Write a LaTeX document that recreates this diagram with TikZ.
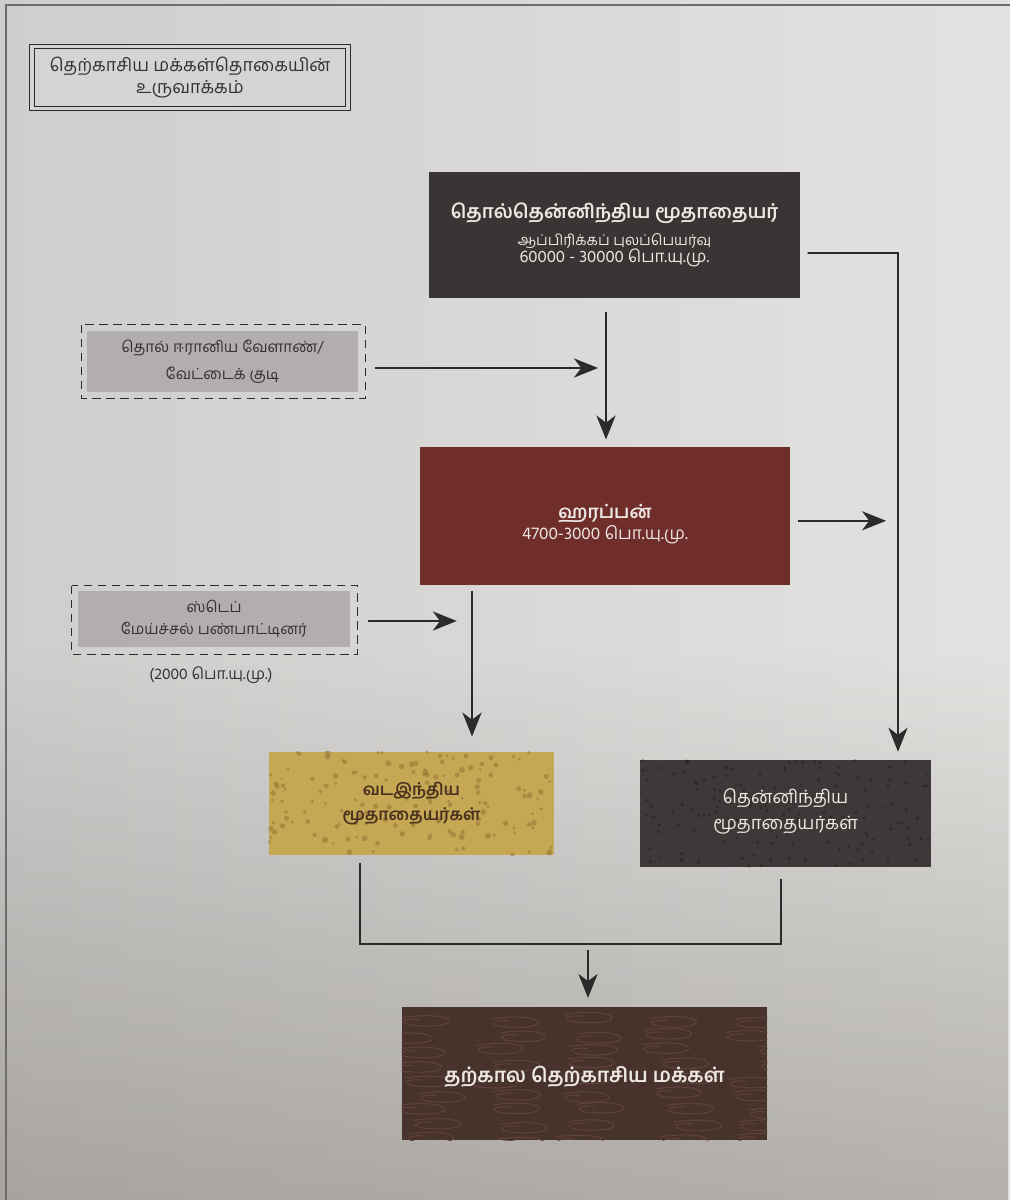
\documentclass[tikz,border=0pt]{standalone}
\usepackage{fontspec}
\newfontfamily\tamil[Script=Tamil]{Hind Madurai}
\usetikzlibrary{arrows.meta,fadings}

\definecolor{bgleft}{RGB}{206,206,205}
\definecolor{bgright}{RGB}{226,226,224}
\definecolor{bgdark}{RGB}{95,85,75}
\definecolor{edgec}{RGB}{110,108,106}
\definecolor{linec}{RGB}{45,42,42}
\definecolor{titlebg}{RGB}{212,212,210}
\definecolor{ancientc}{RGB}{58,52,52}
\definecolor{greyc}{RGB}{178,173,174}
\definecolor{harappac}{RGB}{112,46,42}
\definecolor{northc}{RGB}{198,167,84}
\definecolor{northdot}{RGB}{155,122,55}
\definecolor{northtxt}{RGB}{72,48,30}
\definecolor{southc}{RGB}{62,56,56}
\definecolor{todayc}{RGB}{72,50,44}
\definecolor{swirlc}{RGB}{92,66,58}
\definecolor{lighttxt}{RGB}{238,232,228}
\definecolor{darktxt}{RGB}{52,50,50}

\begin{document}
\begin{tikzpicture}[x=0.025cm,y=-0.025cm,
  box/.style={inner sep=0pt,align=center,font=\tamil},
  dashbox/.style={draw=linec,line width=1pt,dash pattern=on 6pt off 4pt},
  conn/.style={draw=linec,line width=1.1pt},
  arr/.style={conn,-{Stealth[length=6mm,width=4.8mm,inset=1.8mm]}}]
\useasboundingbox (0,0) rectangle (1010,1200);

% page
\shade[left color=bgleft,right color=bgright] (0,0) rectangle (1010,1200);
\fill[bgdark,path fading=north,opacity=0.35] (0,650) rectangle (1010,1200);
\draw[edgec,line width=1.2pt] (6,1200) -- (6,5) -- (1010,5);

% title
\node[box,draw=linec,line width=0.8pt,double=titlebg,double distance=2.6pt,
  fill=titlebg,minimum width=7.9cm,minimum height=1.55cm,text=darktxt,
  font=\tamil\fontsize{12.7}{15.7}\selectfont] (title) at (190,77.5)
  {தெற்காசிய மக்கள்தொகையின்\\உருவாக்கம்};

% boxes
\node[box,fill=ancientc,minimum width=9.275cm,minimum height=3.15cm,text=lighttxt] (ancient) at (614.5,235)
  {{\fontsize{13.6}{17}\selectfont\bfseries தொல்தென்னிந்திய மூதாதையர்}\\[6pt]
   {\fontsize{10.5}{17.8}\selectfont ஆப்பிரிக்கப் புலப்பெயர்வு}\\
   {\fontsize{12}{17.8}\selectfont 60000 - 30000 பொ.யு.மு.}};

\node[box,fill=greyc,minimum width=6.775cm,minimum height=1.525cm,text=darktxt,
  font=\tamil\fontsize{11}{19}\selectfont] (iran) at (222.5,361.5)
  {தொல் ஈரானிய வேளாண்/\\வேட்டைக் குடி};
\draw[dashbox] ([shift={(-0.13cm,0.15cm)}]iran.north west) rectangle ([shift={(0.18cm,-0.15cm)}]iran.south east);

\node[box,fill=harappac,minimum width=9.25cm,minimum height=3.45cm] (harappa) at (605,516) {};
\node[box,text=lighttxt] (harappatxt) at ([yshift=-0.2cm]harappa)
  {{\fontsize{13}{15}\selectfont\bfseries ஹரப்பன்}\\[1pt]
   {\fontsize{12.3}{15}\selectfont 4700-3000 பொ.யு.மு.}};

\node[box,fill=greyc,minimum width=6.8cm,minimum height=1.4cm,text=darktxt,
  font=\tamil\fontsize{10.8}{15.5}\selectfont] (steppe) at (214,619)
  {ஸ்டெப்\\மேய்ச்சல் பண்பாட்டினர்};
\draw[dashbox] ([shift={(-0.15cm,0.13cm)}]steppe.north west) rectangle ([shift={(0.18cm,-0.18cm)}]steppe.south east);
\node[box,text=darktxt,font=\tamil\fontsize{11.2}{14}\selectfont] (steppedate) at (211,675) {(2000 பொ.யு.மு.)};

\node[box,fill=northc,minimum width=7.125cm,minimum height=2.575cm] (north) at (411.5,803.5) {};
\node[box,fill=southc,minimum width=7.275cm,minimum height=2.675cm] (south) at (785.5,813.5) {};
\node[box,fill=todayc,minimum width=9.125cm,minimum height=3.325cm] (today) at (584.5,1073.5) {};

% textures
\pgfmathsetseed{11}
\begin{scope}
\clip (north.north west) rectangle (north.south east);
\foreach \i in {1,...,150}{
  \pgfmathsetmacro\dx{269+rnd*285}
  \pgfmathsetmacro\dy{752+rnd*103}
  \pgfmathsetmacro\dr{1.4+rnd*1.6}
  \fill[northdot,opacity=0.65] (\dx,\dy) circle (\dr);
}
\end{scope}
\begin{scope}
\clip (south.north west) rectangle (south.south east);
\foreach \i in {1,...,140}{
  \pgfmathsetmacro\dx{640+rnd*291}
  \pgfmathsetmacro\dy{760+rnd*107}
  \fill[black,opacity=0.22] (\dx,\dy) circle (1.8);
}
\end{scope}
\begin{scope}
\clip (today.north west) rectangle (today.south east);
\foreach \r in {0,...,8}{
  \foreach \c in {0,...,4}{
    \pgfmathsetmacro\sx{385+\c*85+rnd*35}
    \pgfmathsetmacro\sy{1014+\r*15+rnd*6}
    \draw[swirlc,line width=0.8pt] (\sx,\sy) .. controls (\sx+55,\sy-8) and (\sx+65,\sy+12) .. (\sx+12,\sy+8)
      .. controls (\sx-5,\sy+6) and (\sx+2,\sy) .. (\sx+18,\sy+2);
  }
}
\end{scope}

% texts on textured boxes
\node[box,text=northtxt,font=\tamil\fontsize{11.8}{18}\selectfont\bfseries] (northtxt) at (north) {வடஇந்திய\\மூதாதையர்கள்};
\node[box,text=lighttxt,font=\tamil\fontsize{13}{18}\selectfont] (southtxt) at ([yshift=0.05cm]south) {தென்னிந்திய\\மூதாதையர்கள்};
\node[box,text=lighttxt,font=\tamil\fontsize{14.2}{18}\selectfont\bfseries] (todaytxt) at ([yshift=-0.08cm]today) {தற்கால தெற்காசிய மக்கள்};

% merge points
\coordinate (sbend) at (898,253);
\coordinate (imerge) at (606,368);
\coordinate (nmerge) at (472,621);
\coordinate (njoin) at (360,944);
\coordinate (sjoin) at (781,944);
\coordinate (mjoin) at (588,944);

% connectors
\draw[arr,shorten <=0.18cm,shorten >=0.2cm] ([yshift=-0.45cm]ancient.east) -- (sbend) -- (sbend |- south.north);
\draw[arr,shorten <=0.35cm,shorten >=0.18cm] (imerge |- ancient.south) -- (imerge |- harappa.north);
\draw[arr,shorten <=0.42cm,shorten >=0.2cm] (iran.east |- imerge) -- (imerge);
\draw[arr,shorten <=0.18cm,shorten >=0.3cm] ([yshift=-0.12cm]harappa.east) -- ([yshift=-0.12cm]harappa.east -| sbend);
\draw[arr,shorten <=0.45cm,shorten >=0.38cm] (steppe.east |- nmerge) -- (nmerge);
\draw[arr,shorten <=0.13cm,shorten >=0.38cm] (nmerge |- harappa.south) -- (nmerge |- north.north);
\draw[conn,shorten <=0.18cm,shorten >=0.28cm] (njoin |- north.south) -- (njoin) -- (sjoin) -- (sjoin |- south.south);
\draw[arr,shorten <=0.15cm,shorten >=0.22cm] (mjoin) -- (mjoin |- today.north);
\end{tikzpicture}
\end{document}
